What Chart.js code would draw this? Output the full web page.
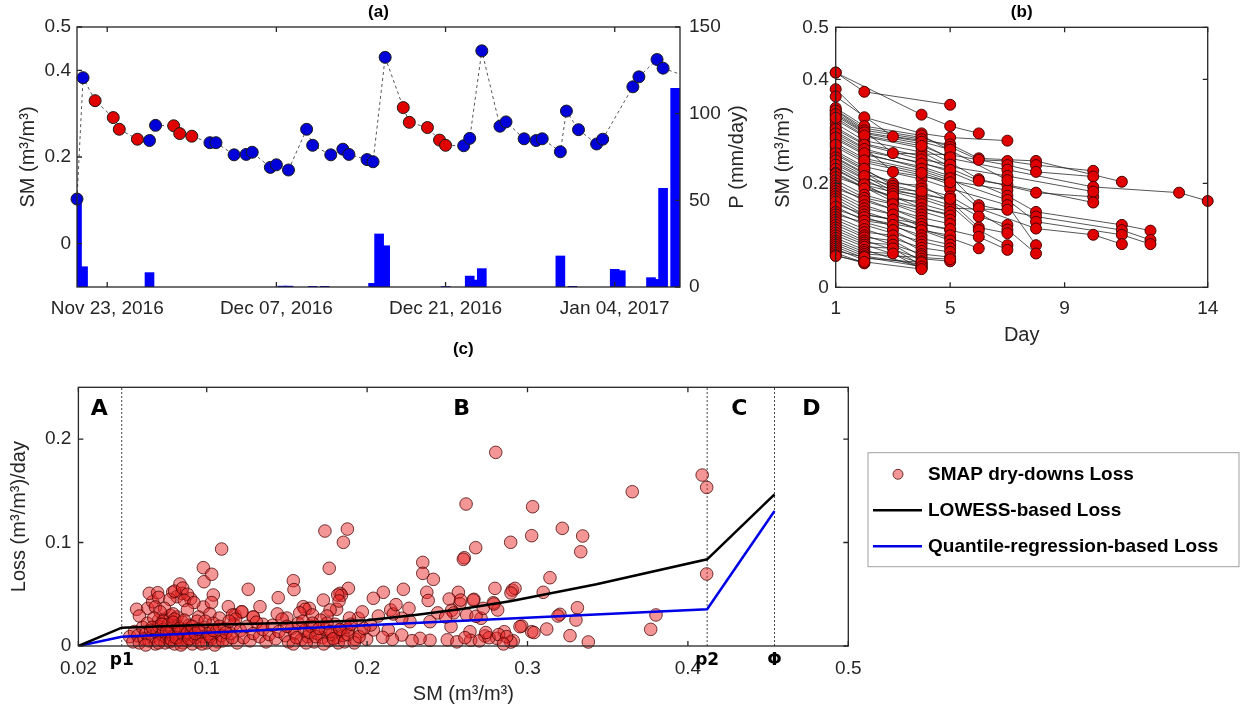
<!DOCTYPE html>
<html>
<head>
<meta charset="utf-8">
<script src="https://cdn.jsdelivr.net/npm/chart.js@4.4.1/dist/chart.umd.min.js"></script>
<style>
  body { margin: 0; background: #fff; }
  #wrap { position: relative; width: 1245px; height: 719px; }
  canvas { position: absolute; }
</style>
</head>
<body>
<div id="wrap">
  <canvas id="panelA" width="760" height="320" style="left:0;top:0"></canvas>
  <canvas id="panelB" width="500" height="350" style="left:745px;top:0"></canvas>
  <canvas id="panelC" width="1245" height="389" style="left:0;top:330px"></canvas>
</div>
<script>
// ---------- (a) SMAP soil moisture and precipitation, days from Nov 23, 2016 ----------
const smDays = [-2.5, -2, -1, 0.5, 1, 2.5, 3.5, 4, 5.5, 6, 7, 8.5, 9, 10.5, 11.5, 12, 13.5, 14, 15, 16.5,
  17, 18.5, 19.5, 20, 21.5, 22, 23, 24.5, 25, 26.5, 27.5, 28, 29.5, 30, 31, 32.5, 33, 34.5, 35.5, 36,
  37.5, 38, 39, 40.5, 41, 43.5, 44, 45.5, 46, 48.5];
const smValues = [0.103, 0.383, 0.330, 0.291, 0.264, 0.241, 0.238, 0.273, 0.272, 0.254, 0.248, 0.233, 0.233, 0.205, 0.206, 0.211, 0.176, 0.182, 0.170, 0.264,
  0.227, 0.205, 0.218, 0.206, 0.194, 0.189, 0.430, 0.314, 0.280, 0.268, 0.239, 0.227, 0.226, 0.243, 0.445, 0.271, 0.281, 0.242, 0.238, 0.242,
  0.212, 0.306, 0.263, 0.230, 0.241, 0.362, 0.385, 0.425, 0.405, 0.380];
const dryDownDays = [-1, 0.5, 1, 2.5, 5.5, 6, 7, 24.5, 25, 26.5, 27.5, 28];
const precipDays = [-2.5, -2, 3.5, 14.5, 15, 17, 18, 22, 22.5, 23, 28, 30, 30.5, 31, 37.5, 38.5, 42, 42.5, 45, 45.5, 46, 47];
const precipValues = [52, 11.7, 8.3, 0.5, 0.5, 0.4, 0.4, 2.1, 30.6, 23.8, 0.3, 6.3, 4.0, 10.6, 17.9, 0.4, 10.2, 9.4, 5.4, 4.4, 56.9, 114.6];
const dateTicks = [0, 14, 28, 42];
const dateLabels = ['Nov 23, 2016', 'Dec 07, 2016', 'Dec 21, 2016', 'Jan 04, 2017'];
const smTicksA = [0, 0.2, 0.4, 0.5];
const precipTicks = [0, 50, 100, 150];

// ---------- (b) individual dry-downs: [day, SM] ----------
const dryDownSeries = [
  [[1,.413],[2,.376],[5,.351]],
  [[1,.413],[4,.332],[5,.310],[6,.296]],
  [[1,.381],[2,.327],[4,.296],[5,.288],[7,.282]],
  [[1,.367],[3,.290],[5,.275],[6,.248],[8,.243],[11,.203]],
  [[1,.341],[2,.306],[4,.288],[5,.270],[6,.245],[7,.243],[8,.235],[10,.224]],
  [[1,.336],[2,.300],[3,.258],[5,.255],[7,.235],[8,.222],[10,.213]],
  [[1,.330],[2,.296],[4,.276],[5,.248],[7,.226],[10,.193],[13,.182],[14,.166]],
  [[1,.322],[2,.290],[4,.268],[5,.240],[6,.208],[8,.182],[10,.174]],
  [[1,.315],[2,.282],[4,.260],[5,.232],[7,.214],[10,.184]],
  [[1,.308],[2,.276],[4,.252],[6,.205],[7,.197],[10,.163]],
  [[1,.300],[2,.268],[3,.222],[7,.187]],
  [[1,.292],[2,.262],[4,.240],[5,.222],[7,.176],[8,.145],[11,.120],[12,.109]],
  [[1,.285],[2,.255],[4,.232],[5,.214],[6,.158],[8,.136],[11,.110],[12,.091]],
  [[1,.278],[2,.248],[4,.224],[5,.206],[7,.168],[8,.126],[11,.101],[12,.083]],
  [[1,.270],[2,.240],[4,.216],[5,.198],[6,.152],[8,.113],[10,.101],[11,.083]],
  [[1,.262],[2,.232],[4,.208],[5,.190],[7,.158],[8,.081]],
  [[1,.255],[2,.225],[3,.200],[4,.196],[6,.136],[7,.120]],
  [[1,.248],[2,.218],[4,.190],[5,.175],[7,.111],[8,.065]],
  [[1,.240],[2,.210],[4,.182],[5,.166],[6,.115],[7,.104]],
  [[1,.232],[2,.202],[4,.175],[5,.158],[6,.110],[7,.081]],
  [[1,.226],[2,.197],[4,.170],[5,.152],[7,.149]],
  [[1,.160],[2,.140],[4,.122],[5,.110],[6,.097],[7,.072]],
  [[1,.150],[2,.132],[4,.112],[5,.095],[6,.075]],
  [[1,.345],[2,.310],[4,.292],[7,.206]],
  [[1,.340],[2,.302],[4,.285]],
  [[1,.333],[2,.298],[4,.280],[5,.265]],
  [[1,.326],[2,.292],[4,.272],[5,.250]],
  [[1,.304],[2,.274],[4,.246],[5,.236]],
  [[1,.296],[2,.266],[4,.238],[5,.226]],
  [[1,.288],[2,.258],[4,.228],[5,.210]],
  [[1,.274],[2,.244],[4,.220],[5,.202]],
  [[1,.258],[2,.228],[3,.195]],
  [[1,.250],[3,.190],[4,.184]],
  [[1,.244],[2,.214],[3,.185],[5,.170]],
  [[1,.236],[3,.180]],
  [[1,.228],[2,.198],[3,.170],[4,.165]],
  [[1,.220],[3,.165],[5,.140]],
  [[1,.218],[2,.190],[4,.160],[5,.145]],
  [[1,.212],[3,.175],[4,.152],[5,.138]],
  [[1,.206],[2,.178],[4,.146],[5,.130]],
  [[1,.200],[2,.172],[3,.160],[4,.140]],
  [[1,.195],[2,.166],[4,.134],[5,.122]],
  [[1,.190],[3,.150],[4,.128]],
  [[1,.185],[2,.158],[4,.122],[5,.112]],
  [[1,.180],[2,.152],[3,.140],[4,.116]],
  [[1,.175],[2,.146],[4,.110],[5,.100]],
  [[1,.170],[2,.140],[3,.130],[5,.090]],
  [[1,.165],[2,.135],[4,.100]],
  [[1,.155],[2,.128],[3,.120],[4,.094],[5,.082]],
  [[1,.145],[2,.120],[4,.088],[5,.075]],
  [[1,.140],[3,.110],[4,.082]],
  [[1,.135],[2,.112],[4,.076],[5,.068]],
  [[1,.130],[2,.106],[3,.100],[4,.070]],
  [[1,.125],[2,.100],[4,.064],[5,.058]],
  [[1,.120],[2,.096],[3,.090],[4,.060]],
  [[1,.115],[2,.090],[4,.055],[5,.050]],
  [[1,.110],[2,.086],[3,.082],[4,.050]],
  [[1,.105],[2,.082],[4,.046]],
  [[1,.100],[2,.078],[3,.075],[4,.042]],
  [[1,.095],[2,.072],[4,.038]],
  [[1,.090],[2,.068],[3,.065],[4,.036]],
  [[1,.086],[2,.064],[5,.054]],
  [[1,.082],[2,.060],[4,.044]],
  [[1,.078],[2,.056],[4,.048]],
  [[1,.074],[2,.052]],
  [[1,.070],[2,.058],[4,.040]],
  [[1,.066],[2,.047]],
  [[1,.062],[2,.046]],
  [[1,.060],[2,.049],[4,.035]]
];
const dayTicks = [1, 5, 9, 14];
const smTicksB = [0, 0.2, 0.4, 0.5];

// ---------- (c) loss function: [SM, loss] ----------
const dryDownLoss = [
  [.2802,.1871],[.2617,.1372],[.3032,.1346],[.3653,.1491],[.4089,.1652],[.4117,.1533],[.4117,.0696],
  [.1877,.1130],[.1852,.1002],[.1737,.1111],[.1764,.0751],[.1093,.0937],
  [.2895,.1002],[.3026,.1066],[.3217,.1137],[.3344,.1063],[.3332,.0911],
  [.2677,.0950],[.2606,.0853],[.2600,.0838],[.2347,.0808],[.2347,.0702],[.2413,.0644],
  [.3140,.0660],[.3098,.0519],[.2797,.0557],[.2905,.0540],[.2922,.0557],[.2897,.0512],
  [.2226,.0548],[.2101,.0519],[.2039,.0461],[.1883,.0557],[.1831,.0509],
  [.2372,.0519],[.2569,.0519],[.2512,.0454],[.2666,.0451],[.2787,.0418],[.2579,.0409],[.2381,.0440],
  [.2261,.0364],[.2147,.0348],[.3311,.0370],[.3202,.0306],[.3801,.0300],[.3768,.0161],
  [.3265,.0100],[.3379,.0039],[.3302,.0251],[.3120,.0164],[.3026,.0138],[.2964,.0193],[.2855,.0138],
  [.2808,.0074],[.2911,.0051],[.2896,.0038],[.2735,.0097],[.2710,.0268],[.2641,.0138],[.2646,.0055],
  [.2523,.0187],[.2621,.0300],[.2679,.0287],[.2392,.0235],[.2392,.0055],[.2330,.0074],[.2280,.0051],
  [.2216,.0106],[.2157,.0064],[.2267,.0235],[.2216,.0268],[.2163,.0309],[.2132,.0155],[.2097,.0084],
  [.2039,.0155],[.2022,.0203],[.1997,.0065],[.1955,.0138],[.1925,.0065],[.1883,.0155],[.1831,.0155],
  [.1810,.0084],[.1945,.0268],[.1810,.0355],[.1769,.0348],
  [.3190,.0290],[.3040,.0130],[.2953,.0187],[.2814,.0348],[.2790,.0406],[.2724,.0364],[.2662,.0444],
  [.2583,.0444],[.2527,.0345],[.2540,.0320],
  [.2500,.0060],[.2560,.0040],[.2610,.0080],[.2700,.0050],[.2760,.0080],[.2820,.0110],[.2870,.0090],[.2850,.0020],[.2740,.0130],
  [.0563,.0355],[.0632,.0364],[.0663,.0428],[.0642,.0509],[.0694,.0515],[.0700,.0470],[.0788,.0519],[.0833,.0599],
  [.0846,.0509],[.0815,.0477],[.0900,.0457],[.0979,.0757],[.0983,.0621],[.1031,.0693],[.1041,.0493],[.0979,.0377],
  [.1135,.0380],[.1259,.0548],[.1332,.0380],[.1446,.0467],[.1540,.0631],[.1544,.0545],[.1602,.0380],[.1640,.0364],
  [.1727,.0444],[.1840,.0490],[.1030,.0420],[.0770,.0450],[.0800,.0530],[.0850,.0560],[.0880,.0500],[.0860,.0440],
  [.0920,.0420],[.1817,.0493],[.1825,.0435],[.1613,.0355],
  [.0730,.0258],[.0772,.0297],[.0700,.0250],[.0815,.0280],[.0680,.0377],[.0737,.0364],[.1176,.0300],[.1217,.0330],
  [.1290,.0280],[.1350,.0210],
  [.058,.029],[.071,.033],[.079,.031],[.088,.035],[.095,.028],[.102,.031],[.108,.027],[.116,.030],[.122,.033],
  [.129,.028],[.144,.031],[.150,.027],[.158,.032],[.166,.030],[.175,.029],[.189,.027],[.197,.033],[.207,.029],
  [.218,.040],[.244,.032],[.249,.028],
  [.052,.009],[.054,.004],[.055,.014],[.057,.010],[.058,.003],[.060,.018],[.061,.007],[.062,.012],[.063,.022],
  [.064,.005],[.065,.015],[.066,.009],[.067,.027],[.068,.002],[.069,.013],[.070,.019],[.071,.006],[.072,.011],
  [.073,.024],[.073,.016],[.074,.003],[.075,.008],[.076,.021],[.077,.013],[.077,.004],[.078,.017],[.079,.009],
  [.080,.026],[.080,.002],[.081,.012],[.082,.019],[.083,.006],[.084,.014],[.085,.023],[.085,.003],[.086,.010],
  [.087,.016],[.088,.005],[.089,.020],[.090,.011],[.091,.002],[.092,.015],[.093,.008],[.094,.024],[.095,.004],
  [.096,.013],[.098,.009],[.099,.018],[.100,.003],[.101,.012],[.103,.007],[.104,.022],[.106,.014],[.107,.004],
  [.109,.010],[.111,.017],[.113,.006],[.115,.012],[.117,.021],[.118,.026],[.119,.003],[.121,.015],[.123,.008],
  [.125,.019],[.127,.005],[.129,.012],[.131,.023],[.133,.009],[.135,.016],[.137,.004],[.139,.011],[.141,.020],
  [.143,.007],[.145,.014],[.147,.026],[.149,.010],[.151,.004],[.153,.017],[.155,.012],[.157,.022],[.159,.006],
  [.161,.015],[.163,.009],[.165,.019],[.167,.004],[.169,.012],[.171,.025],[.172,.008],[.174,.016],[.176,.005],
  [.178,.011],[.180,.021],[.182,.003],[.185,.010],[.187,.018],
  [.062,.001],[.066,.018],[.070,.003],[.072,.021],[.075,.014],[.078,.006],[.079,.023],[.081,.008],[.083,.017],
  [.084,.001],[.086,.025],[.088,.013],[.089,.007],[.091,.019],[.093,.012],[.095,.016],[.097,.002],[.099,.024],
  [.102,.009],[.104,.015],[.105,.001],[.108,.019],[.110,.005],[.112,.013],[.114,.024],[.116,.008],
  [.150,.019],[.154,.002],[.156,.008],[.160,.024],[.162,.003],[.164,.013],[.166,.022],[.168,.009],[.170,.017],
  [.173,.002],[.175,.022],[.177,.014],[.179,.007],[.183,.016],[.186,.004],[.188,.011],[.190,.021],[.192,.003],
  [.195,.009],[.198,.017]
];
const lowessSM = [0.02, 0.047, 0.10, 0.15, 0.20, 0.23, 0.26, 0.29, 0.343, 0.412, 0.454];
const lowessLoss = [0, 0.0177, 0.0205, 0.0222, 0.0250, 0.0300, 0.0360, 0.0435, 0.0596, 0.0838, 0.1466];
const quantSM = [0.02, 0.047, 0.412, 0.454];
const quantLoss = [0, 0.009, 0.0355, 0.1304];
const p1 = 0.047, p2 = 0.412, phi = 0.454;
const smTicksC = [0.02, 0.1, 0.2, 0.3, 0.4, 0.5];
const lossTicks = [0, 0.1, 0.2];

// ---------- shared styling ----------
const INK = '#262626';
const FONT = "'Liberation Sans', Arial, sans-serif";
const tickFont = { family: FONT, size: 19 };
const axisTitleFont = { family: FONT, size: 20 };
const headFont = { family: FONT, size: 17, weight: 'bold' };
const noGrid = { display: false, drawTicks: false };
const RED = '#e00000', BLUE = '#0000d8';
Chart.defaults.font.family = FONT;
Chart.defaults.color = INK;

const fixTicks = values => s => { s.ticks = values.map(v => ({ value: v })); };
const fitTo = (w, h) => s => {
  if (w != null) s.width = w;
  if (h != null) s.height = h;
  s.paddingLeft = s.paddingRight = s.paddingTop = s.paddingBottom = 0;
};
const head = (text, top, bottom) => ({
  display: true, text, fullSize: false, font: headFont, color: '#000', padding: { top, bottom }
});
const axisTitle = (text, top, bottom) => ({
  display: true, text, font: axisTitleFont, color: INK, padding: { top, bottom: bottom || 0 }
});

// box around the axes with inward ticks, MATLAB style
const boxAxes = {
  id: 'boxAxes',
  afterDatasetsDraw(chart, args, opts) {
    const { ctx, chartArea: a } = chart;
    const mirror = opts.mirror || [];
    const len = 5;
    ctx.save();
    ctx.strokeStyle = INK;
    ctx.lineWidth = 1.3;
    ctx.strokeRect(a.left, a.top, a.right - a.left, a.bottom - a.top);
    ctx.beginPath();
    for (const id of Object.keys(chart.scales)) {
      const s = chart.scales[id];
      const both = mirror.includes(id);
      for (const t of s.ticks) {
        const p = s.getPixelForValue(t.value);
        if (s.isHorizontal()) {
          ctx.moveTo(p, a.bottom); ctx.lineTo(p, a.bottom - len);
          if (both) { ctx.moveTo(p, a.top); ctx.lineTo(p, a.top + len); }
        } else {
          const right = s.position === 'right';
          if (right || both) { ctx.moveTo(a.right, p); ctx.lineTo(a.right - len, p); }
          if (!right || both) { ctx.moveTo(a.left, p); ctx.lineTo(a.left + len, p); }
        }
      }
    }
    ctx.stroke();
    ctx.restore();
  }
};

// right-hand axis label reading upwards, like the left one
const rightLabel = {
  id: 'rightLabel',
  afterDraw(chart, args, o) {
    const { ctx, chartArea: a } = chart;
    ctx.save();
    ctx.translate(o.x, (a.top + a.bottom) / 2);
    ctx.rotate(-Math.PI / 2);
    ctx.font = axisTitleFont.size + 'px ' + FONT;
    ctx.fillStyle = INK;
    ctx.textAlign = 'center';
    ctx.textBaseline = 'middle';
    ctx.fillText(o.text, 0, 0);
    ctx.restore();
  }
};

// ---------- (a) ----------
new Chart('panelA', {
  type: 'bar',
  data: {
    datasets: [
      {
        type: 'line', label: 'SM', yAxisID: 'ySM', order: 0,
        data: smDays.map((d, i) => ({ x: d, y: smValues[i] })),
        borderColor: '#555', borderWidth: 1, borderDash: [3, 3],
        pointRadius: 6, pointBorderWidth: 1, pointBorderColor: '#1a1a1a',
        pointBackgroundColor: smDays.map(d => dryDownDays.includes(d) ? RED : BLUE),
        clip: { left: 8, top: 8, bottom: 8, right: 0 }
      },
      {
        type: 'bar', label: 'P', yAxisID: 'yP', order: 1,
        data: precipDays.map((d, i) => ({ x: d, y: precipValues[i] })),
        backgroundColor: '#0000ff', borderWidth: 0, barThickness: 9
      }
    ]
  },
  options: {
    responsive: false, animation: false,
    plugins: {
      legend: { display: false }, tooltip: { enabled: false },
      title: head('(a)', 2.5, 4.1),
      boxAxes: { mirror: ['x'] },
      rightLabel: { text: 'P (mm/day)', x: 737 }
    },
    scales: {
      x: {
        type: 'linear', min: -2.5, max: 47.4, offset: false, grid: noGrid, border: { display: false },
        afterBuildTicks: fixTicks(dateTicks), afterFit: fitTo(null, 33),
        ticks: { autoSkip: false, maxRotation: 0, padding: 10, font: tickFont, color: INK,
          callback: v => dateLabels[dateTicks.indexOf(v)] }
      },
      ySM: {
        position: 'left', min: -0.1, max: 0.5, grid: noGrid, border: { display: false },
        afterBuildTicks: fixTicks(smTicksA), afterFit: fitTo(77, null),
        ticks: { padding: 6, font: tickFont, color: INK, callback: v => String(v) },
        title: axisTitle('SM (m³/m³)', 16)
      },
      yP: {
        position: 'right', min: 0, max: 150, grid: noGrid, border: { display: false },
        afterBuildTicks: fixTicks(precipTicks), afterFit: fitTo(80, null),
        ticks: { padding: 9, font: tickFont, color: INK, callback: v => String(v) }
      }
    }
  },
  plugins: [boxAxes, rightLabel]
});

// ---------- (b) ----------
const dryDownLines = dryDownSeries.map(s => ({
  data: s.map(([x, y]) => ({ x, y })), showLine: true, pointRadius: 0,
  borderColor: 'rgba(30,30,30,0.75)', borderWidth: 1, order: 1, clip: false
}));
const dryDownPoints = {
  data: dryDownSeries.flat().map(([x, y]) => ({ x, y })), showLine: false,
  pointRadius: 5.5, pointBackgroundColor: RED, pointBorderColor: '#4a0000', pointBorderWidth: 1,
  order: 0, clip: false
};
new Chart('panelB', {
  type: 'scatter',
  data: { datasets: [...dryDownLines, dryDownPoints] },
  options: {
    responsive: false, animation: false,
    layout: { padding: { right: 37.3 } },
    plugins: {
      legend: { display: false }, tooltip: { enabled: false },
      title: head('(b)', 2.5, 4.4),
      boxAxes: { mirror: ['x', 'y'] }
    },
    scales: {
      x: {
        type: 'linear', min: 1, max: 14, grid: noGrid, border: { display: false },
        afterBuildTicks: fixTicks(dayTicks), afterFit: fitTo(null, 62.7),
        ticks: { autoSkip: false, maxRotation: 0, padding: 10, font: tickFont, color: INK, callback: v => String(v) },
        title: axisTitle('Day', 0, 3)
      },
      y: {
        min: 0, max: 0.5, grid: noGrid, border: { display: false },
        afterBuildTicks: fixTicks(smTicksB), afterFit: fitTo(90.7, null),
        ticks: { padding: 7, font: tickFont, color: INK, callback: v => String(v) },
        title: axisTitle('SM (m³/m³)', 26)
      }
    }
  },
  plugins: [boxAxes]
});

// ---------- (c) ----------
// region letters and threshold names
const zoneLabels = {
  id: 'zoneLabels',
  afterDraw(chart, args, o) {
    const { ctx, chartArea: a, scales: { x } } = chart;
    ctx.save();
    ctx.fillStyle = '#000';
    ctx.textAlign = 'center';
    ctx.textBaseline = 'middle';
    ctx.font = "bold 22px 'DejaVu Sans'";
    o.zones.forEach(z => ctx.fillText(z.text, x.getPixelForValue(z.at), a.top + 22));
    ctx.font = "bold 17px 'DejaVu Sans'";
    o.marks.forEach(m => ctx.fillText(m.text, x.getPixelForValue(m.at), a.bottom + 15));
    ctx.restore();
  }
};

// boxed legend to the right of the axes
const lossLegend = {
  id: 'lossLegend',
  afterDraw(chart, args, o) {
    const ctx = chart.ctx;
    ctx.save();
    ctx.strokeStyle = '#a0a0a0';
    ctx.lineWidth = 1;
    ctx.strokeRect(o.left, o.top, o.width, o.height);
    ctx.font = 'bold 19px ' + FONT;
    ctx.textBaseline = 'middle';
    chart.data.datasets.slice(0, 3).forEach((d, i) => {
      const cy = o.top + o.firstRow + i * o.rowGap;
      if (d.showLine) {
        ctx.strokeStyle = d.borderColor;
        ctx.lineWidth = d.borderWidth;
        ctx.beginPath(); ctx.moveTo(o.left + 5, cy); ctx.lineTo(o.left + 54, cy); ctx.stroke();
      } else {
        ctx.fillStyle = d.pointBackgroundColor;
        ctx.strokeStyle = d.pointBorderColor;
        ctx.lineWidth = 1;
        ctx.beginPath(); ctx.arc(o.left + 30, cy, 5, 0, Math.PI * 2); ctx.fill(); ctx.stroke();
      }
      ctx.fillStyle = '#000';
      ctx.fillText(d.label, o.left + 60, cy);
    });
    ctx.restore();
  }
};

const guide = v => ({
  data: [{ x: v, y: 0 }, { x: v, y: 0.25 }], showLine: true, pointRadius: 0,
  borderColor: '#444', borderWidth: 1, borderDash: [2, 2], order: 3
});
new Chart('panelC', {
  type: 'scatter',
  data: {
    datasets: [
      {
        label: 'SMAP dry-downs Loss', data: dryDownLoss.map(([x, y]) => ({ x, y })), showLine: false,
        pointRadius: 6.3, pointBackgroundColor: 'rgba(232,35,35,0.48)', pointBorderColor: 'rgba(70,0,0,0.75)',
        pointBorderWidth: 1, order: 2, clip: false
      },
      {
        label: 'LOWESS-based Loss', data: lowessSM.map((x, i) => ({ x, y: lowessLoss[i] })), showLine: true,
        pointRadius: 0, borderColor: '#000', borderWidth: 2.5, order: 0
      },
      {
        label: 'Quantile-regression-based Loss', data: quantSM.map((x, i) => ({ x, y: quantLoss[i] })), showLine: true,
        pointRadius: 0, borderColor: '#0000e6', borderWidth: 2.5, order: 1
      },
      guide(p1), guide(p2), guide(phi)
    ]
  },
  options: {
    responsive: false, animation: false,
    layout: { padding: { right: 396.7 } },
    plugins: {
      legend: { display: false }, tooltip: { enabled: false },
      title: head('(c)', 9.4, 27.5),
      boxAxes: { mirror: ['x', 'y'] },
      zoneLabels: {
        zones: [{ text: 'A', at: 0.033 }, { text: 'B', at: 0.259 }, { text: 'C', at: 0.432 }, { text: 'D', at: 0.477 }],
        marks: [{ text: 'p1', at: p1 }, { text: 'p2', at: p2 }, { text: 'Φ', at: phi }]
      },
      lossLegend: { left: 868, top: 122.7, width: 371, height: 114, firstRow: 21.6, rowGap: 36 }
    },
    scales: {
      x: {
        type: 'linear', min: 0.02, max: 0.5, grid: noGrid, border: { display: false },
        afterBuildTicks: fixTicks(smTicksC), afterFit: fitTo(null, 73),
        ticks: { autoSkip: false, maxRotation: 0, padding: 11, font: tickFont, color: INK, callback: v => String(v) },
        title: axisTitle('SM (m³/m³)', 0, 13)
      },
      y: {
        min: 0, max: 0.25, grid: noGrid, border: { display: false },
        afterBuildTicks: fixTicks(lossTicks), afterFit: fitTo(78.4, null),
        ticks: { padding: 7, font: tickFont, color: INK, callback: v => String(v) },
        title: axisTitle('Loss (m³/m³)/day', 7)
      }
    }
  },
  plugins: [boxAxes, zoneLabels, lossLegend]
});
</script>
</body>
</html>
